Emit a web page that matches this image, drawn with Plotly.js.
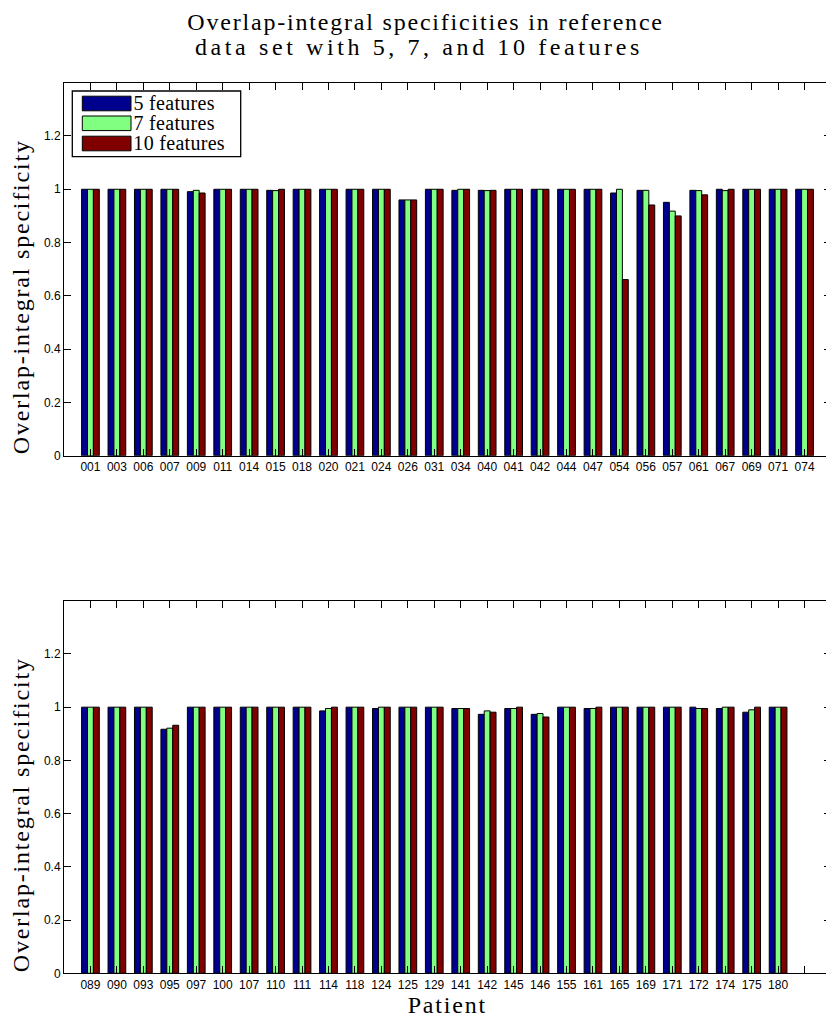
<!DOCTYPE html>
<html>
<head>
<meta charset="utf-8">
<script src="https://cdn.plot.ly/plotly-3.0.1.min.js"></script>
<style>
html, body { margin: 0; padding: 0; overflow: hidden; background: #fff; }
#chart { width: 835px; height: 1020px; }
.annotation[data-index="3"] text,
.annotation[data-index="4"] text,
.annotation[data-index="5"] text,
.annotation[data-index="6"] text { letter-spacing: 1.8px; }
.annotation[data-index="7"] text { letter-spacing: 3.6px; }
.annotation[data-index="0"] text,
.annotation[data-index="1"] text,
.annotation[data-index="2"] text { letter-spacing: 0.3px; }
</style>
</head>
<body>
<div id="chart"></div>
<script>
// ---- data ----
const patientsTop = ['001','003','006','007','009','011','014','015','018','020','021','024','026','031','034','040','041','042','044','047','054','056','057','061','067','069','071','074'];
const feat5Top  = [1,1,1,1,0.991,1,1,0.996,1,1,1,1,0.96,1,0.996,0.996,1,1,1,1,0.986,0.996,0.951,0.996,1,1,1,1];
const feat7Top  = [1,1,1,1,0.996,1,1,0.995,1,1,1,1,0.96,1,1,0.995,1,1,1,1,1,0.996,0.918,0.995,0.995,1,1,1];
const feat10Top = [1,1,1,1,0.986,1,1,1,1,1,1,1,0.96,1,1,0.996,1,1,1,1,0.661,0.941,0.900,0.979,1,1,1,1];

const patientsBottom = ['089','090','093','095','097','100','107','110','111','114','118','124','125','129','141','142','145','146','155','161','165','169','171','172','174','175','180'];
const feat5Bottom  = [1,1,1,0.917,1,1,1,1,1,0.986,1,0.995,1,1,0.995,0.973,0.995,0.973,1,0.995,1,1,1,1,0.995,0.981,1];
const feat7Bottom  = [1,1,1,0.921,1,1,1,1,1,0.995,1,1,1,1,0.995,0.986,0.995,0.976,1,0.995,1,1,1,0.995,1,0.990,1];
const feat10Bottom = [1,1,1,0.932,1,1,1,1,1,1,1,1,1,1,0.995,0.981,1,0.963,1,1,1,1,1,0.995,1,1,1];

const seriesNames = ['5 features','7 features','10 features'];
const seriesColors = ['#00008F','#80FF80','#800000'];
const yTicks = [0,0.2,0.4,0.6,0.8,1,1.2];
const nSlots = 28;
const titleLines = ['Overlap-integral specificities in reference', 'data set with 5, 7, and 10 features'];
const yTitle = 'Overlap-integral specificity';
const xTitle = 'Patient';

// ---- layout helpers ----
const W = 835, H = 1020, ML = 64, MR = 4;
const PW = W - ML - MR;
const px2x = p => (p - ML) / PW;
const px2y = p => 1 - p / H;

const serif = 'Liberation Serif, Times New Roman, serif';
const sans = 'Liberation Sans, Arial, Helvetica, sans-serif';

const pos = arr => arr.map((_, i) => i + 1);

function barTraces(cats, s5, s7, s10, xa, ya) {
  return [s5, s7, s10].map((vals, k) => ({
    type: 'bar',
    x: pos(cats),
    y: vals,
    name: seriesNames[k],
    xaxis: xa, yaxis: ya,
    showlegend: false,
    textposition: 'none',
    customdata: cats,
    marker: { color: seriesColors[k], line: { color: '#000', width: 1 } },
    hovertemplate: '%{customdata}: %{y}<extra>' + seriesNames[k] + '</extra>'
  }));
}

const data = [
  ...barTraces(patientsTop, feat5Top, feat7Top, feat10Top, 'x', 'y'),
  ...barTraces(patientsBottom, feat5Bottom, feat7Bottom, feat10Bottom, 'x2', 'y2')
];

const tickVals = Array.from({length: nSlots}, (_, i) => i + 1);
const topTickText = tickVals.map(i => patientsTop[i - 1] || '');
const botTickText = tickVals.map(i => patientsBottom[i - 1] || '');

const xCommon = {
  range: [0, nSlots + 1],
  tickmode: 'array',
  tickvals: tickVals,
  ticks: 'inside', ticklen: 7, tickwidth: 1, tickcolor: '#000',
  showline: true, linecolor: '#000', linewidth: 1, mirror: 'ticks',
  showgrid: false, zeroline: false,
  tickfont: { family: sans, size: 12, color: '#000' },
  fixedrange: true
};
const yCommon = {
  range: [0, 1.4],
  tickmode: 'array',
  tickvals: yTicks,
  ticks: 'inside', ticklen: 7, tickwidth: 1, tickcolor: '#000',
  showline: true, linecolor: '#000', linewidth: 1, mirror: 'ticks',
  showgrid: false, zeroline: false,
  tickfont: { family: sans, size: 12, color: '#000' },
  fixedrange: true
};

const topDom = [px2y(455.7), px2y(82.7)];
const botDom = [px2y(973.3), px2y(600.7)];

// manual legend (MATLAB style, wide swatches)
const legendShapes = [{
  type: 'rect', xref: 'paper', yref: 'paper',
  x0: px2x(72.3), x1: px2x(240.7), y0: px2y(156.7), y1: px2y(91),
  line: { color: '#000', width: 1.3 }, fillcolor: '#fff', layer: 'above'
}];
const legendAnn = [];
const rowCenters = [103.5, 123.3, 143.5];
seriesNames.forEach((nm, k) => {
  legendShapes.push({
    type: 'rect', xref: 'paper', yref: 'paper',
    x0: px2x(82.3), x1: px2x(131), y0: px2y(rowCenters[k] + 7.3), y1: px2y(rowCenters[k] - 7.3),
    line: { color: '#000', width: 1 }, fillcolor: seriesColors[k], layer: 'above'
  });
  legendAnn.push({
    xref: 'paper', yref: 'paper', x: px2x(133), y: px2y(rowCenters[k]),
    xanchor: 'left', yanchor: 'middle', showarrow: false,
    text: nm, font: { family: serif, size: 20, color: '#000' }
  });
});

const bigFont = { family: serif, size: 24, color: '#000' };

const layout = {
  width: W, height: H,
  margin: { l: ML, r: MR, t: 0, b: 0, pad: 0 },
  paper_bgcolor: '#fff', plot_bgcolor: '#fff',
  barmode: 'group', bargap: 0.33, bargroupgap: 0,
  showlegend: false,
  xaxis: Object.assign({}, xCommon, { anchor: 'y', ticktext: topTickText, domain: [0, 1] }),
  yaxis: Object.assign({}, yCommon, { anchor: 'x', domain: topDom }),
  xaxis2: Object.assign({}, xCommon, { anchor: 'y2', ticktext: botTickText, domain: [0, 1] }),
  yaxis2: Object.assign({}, yCommon, { anchor: 'x2', domain: botDom }),
  shapes: legendShapes,
  annotations: [
    ...legendAnn,
    { xref: 'paper', yref: 'paper', x: px2x(21), y: px2y(297),
      textangle: -90, showarrow: false, xanchor: 'center', yanchor: 'middle',
      text: yTitle, font: bigFont },
    { xref: 'paper', yref: 'paper', x: px2x(21), y: px2y(815),
      textangle: -90, showarrow: false, xanchor: 'center', yanchor: 'middle',
      text: yTitle, font: bigFont },
    { xref: 'paper', yref: 'paper', x: px2x(447), y: px2y(1005),
      showarrow: false, xanchor: 'center', yanchor: 'middle',
      text: xTitle, font: bigFont },
    { xref: 'paper', yref: 'paper', x: px2x(425), y: px2y(22),
      showarrow: false, xanchor: 'center', yanchor: 'middle',
      text: titleLines[0], font: bigFont },
    { xref: 'paper', yref: 'paper', x: px2x(419), y: px2y(47),
      showarrow: false, xanchor: 'center', yanchor: 'middle',
      text: titleLines[1], font: bigFont }
  ]
};

Plotly.newPlot('chart', data, layout, { displayModeBar: false, staticPlot: true });
</script>
</body>
</html>
